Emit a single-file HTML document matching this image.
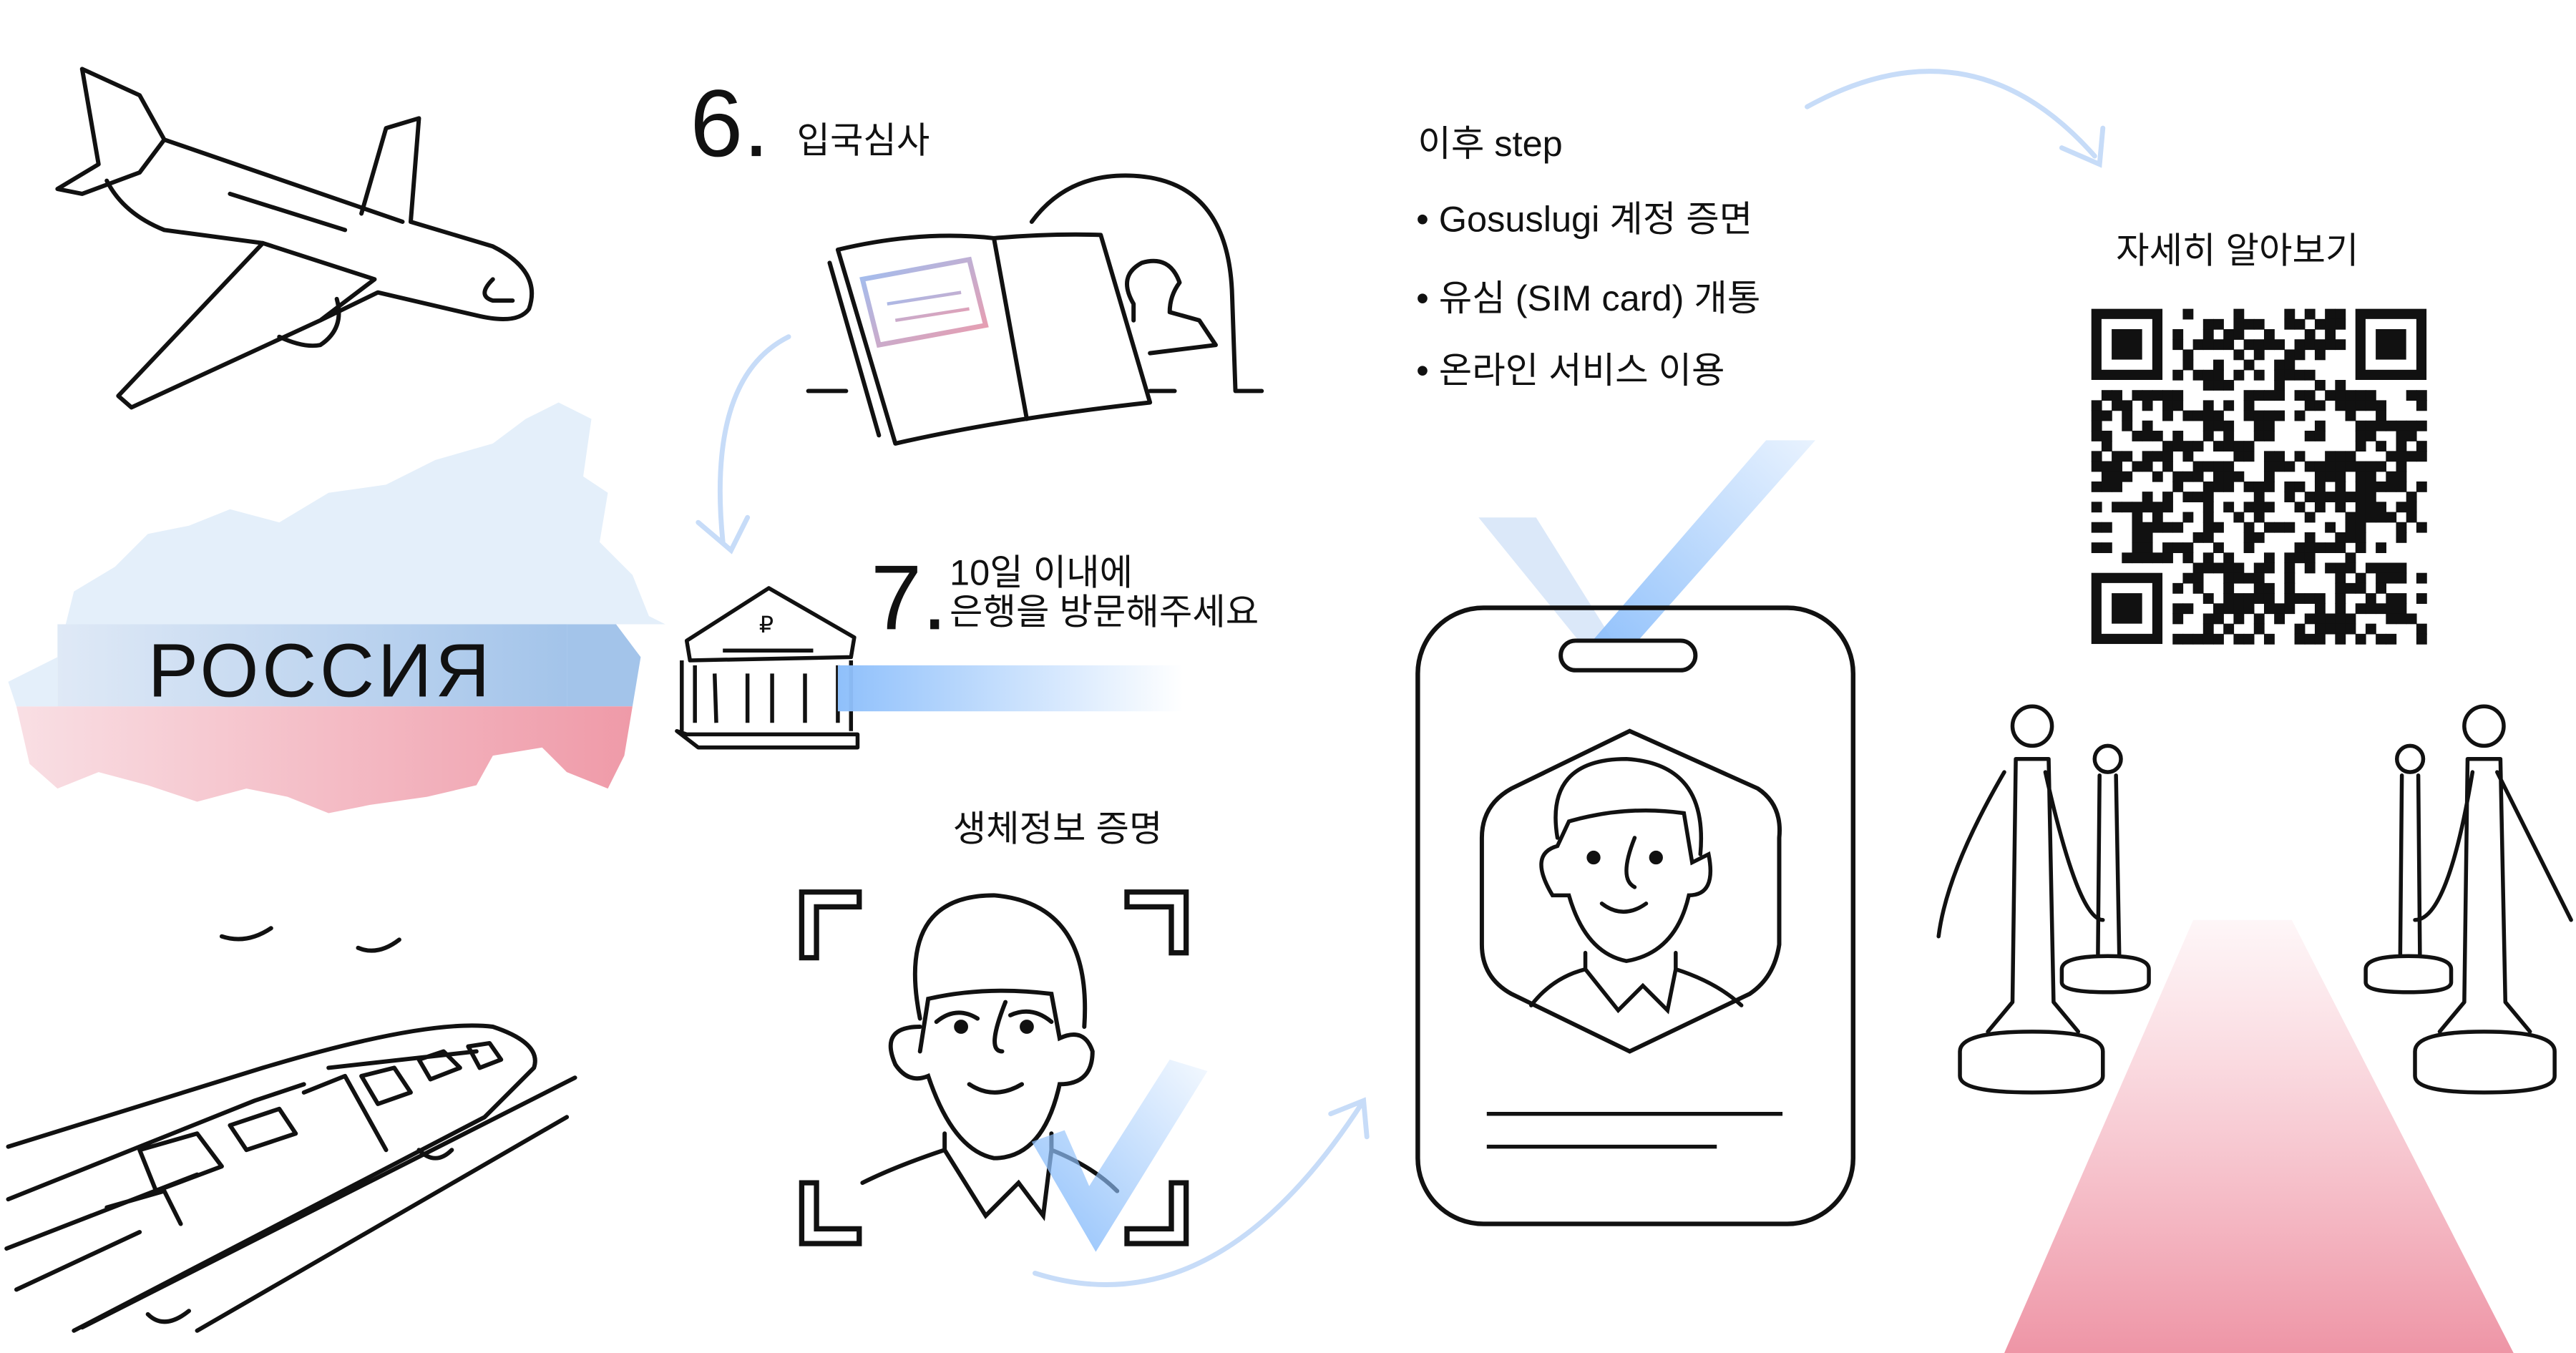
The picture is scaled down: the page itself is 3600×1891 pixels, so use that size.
<!DOCTYPE html>
<html><head><meta charset="utf-8"><style>
html,body{margin:0;padding:0;background:#fff;}
svg{display:block;}
text{font-family:"Liberation Sans","Noto Sans CJK KR",sans-serif;fill:#111;}
</style></head><body>
<svg id="s" width="3600" height="1891" viewBox="0 0 1568 823.6" preserveAspectRatio="none" xmlns="http://www.w3.org/2000/svg">
<defs>
<linearGradient id="bl" x1="0" x2="1"><stop offset="0" stop-color="#dfe9f6"/><stop offset="1" stop-color="#a3c4ea"/></linearGradient>
<linearGradient id="pk" x1="0" x2="1"><stop offset="0" stop-color="#f9dfe4"/><stop offset="1" stop-color="#ef9aa8"/></linearGradient>
<linearGradient id="bar" x1="0" x2="1"><stop offset="0" stop-color="#8fc0fb"/><stop offset="1" stop-color="#8fc0fb" stop-opacity="0"/></linearGradient>
<linearGradient id="chk" x1="0" y1="1" x2="1" y2="0"><stop offset="0" stop-color="#8fc0fb"/><stop offset="1" stop-color="#8fc0fb" stop-opacity="0.1"/></linearGradient>
<linearGradient id="lan" x1="0" y1="1" x2="1" y2="0"><stop offset="0" stop-color="#8fc0fb"/><stop offset="1" stop-color="#8fc0fb" stop-opacity="0.2"/></linearGradient>
<linearGradient id="red" x1="0" y1="0" x2="0" y2="1"><stop offset="0" stop-color="#f4a8b6" stop-opacity="0.1"/><stop offset="1" stop-color="#ee95a6"/></linearGradient>
<linearGradient id="stamp" x1="0" x2="1" y1="0" y2="1"><stop offset="0" stop-color="#9cc0f4"/><stop offset="1" stop-color="#ee9aaa"/></linearGradient>
</defs>
<g fill="none" stroke="#111" stroke-width="2.6" stroke-linecap="round" stroke-linejoin="round">
<path d="M50 42 L85 58 L100 85 L245 135 M140 118 L210 140 M220 130 L235 78 L255 72 L250 135 L300 150 Q330 165 322 188 Q315 198 290 192 L230 178 L195 195 M195 195 L80 248 L72 241 L160 148 L228 170 L195 195"/>
<path d="M50 42 L60 100 L35 115 L50 118 L85 105 L100 85"/>
<path d="M65 110 Q75 130 100 140 L160 148 M300 170 Q290 180 300 183 L312 183"/>
<path d="M170 205 Q185 212 195 210 Q210 200 205 182"/>
<path d="M135 570 Q150 575 165 565 M218 577 Q230 582 243 572"/>
<path d="M5 698 L160 650 Q260 620 300 625 Q330 635 325 650 L295 680 L45 810 M5 730 L155 670 L185 660 M200 650 L290 640 M4 760 L120 715 M10 785 L85 750 M120 810 L345 680 M50 808 L350 656 M65 735 L100 725 L110 745 M85 700 L120 690 L135 710 L95 725 Z M140 685 L170 675 L180 690 L150 700 Z M185 665 L210 655 L235 700 M220 655 L240 650 L250 665 L230 672 Z M255 645 L270 640 L280 650 L262 657 Z M285 637 L298 635 L305 645 L292 650 Z"/>
<path d="M255 700 Q265 710 275 700 M90 800 Q100 810 115 798"/>
</g>
<path d="M40 380 L45 360 L70 345 L90 325 L115 320 L140 310 L170 318 L200 300 L235 295 L265 280 L300 270 L320 255 L340 245 L360 255 L355 290 L370 300 L365 330 L385 350 L395 375 L405 380 Z" fill="#e4effa"/>
<rect x="35" y="380" width="310" height="50" fill="url(#bl)"/>
<path d="M345 380 L375 380 L390 400 L385 430 L345 430 Z" fill="#a3c4ea"/>
<path d="M10 430 L385 430 L380 460 L370 480 L345 470 L330 455 L300 460 L290 478 L260 485 L225 490 L200 495 L175 485 L150 480 L120 488 L90 478 L60 470 L35 480 L18 465 Z" fill="url(#pk)"/>
<path d="M5 415 L35 400 L35 430 L10 430 Z" fill="#e4effa"/>
<text x="90" y="424" font-size="46" style="letter-spacing:2px">РОССИЯ</text>
<text x="420" y="95" font-size="58">6.</text>
<text x="485" y="93" font-size="22">입국심사</text>
<g fill="none" stroke="#111" stroke-width="2.6" stroke-linecap="round" stroke-linejoin="round">
<path d="M510 152 L545 270 Q610 255 700 245 L670 143 Q640 142 605 145 Q560 140 510 152 Z M605 145 L625 255 M505 160 L535 265"/>
<path d="M492 238 L515 238 M700 238 L715 238 M628 135 Q650 105 690 107 Q748 110 750 180 L752 238 L768 238"/>
<path d="M690 195 L690 185 Q680 168 695 160 Q712 155 718 172 Q712 180 712 190 L730 195 L740 210 L700 215"/>
</g>
<path d="M525 170 L590 158 L600 198 L535 210 Z" fill="none" stroke="url(#stamp)" stroke-width="3"/>
<path d="M540 185 L585 178 M545 195 L590 188" stroke="url(#stamp)" stroke-width="2"/>
<path d="M480 205 Q430 230 440 330 M425 318 L445 335 L455 315" fill="none" stroke="#c7dcf8" stroke-width="3" stroke-linecap="round"/>
<g fill="none" stroke="#111" stroke-width="2.4" stroke-linejoin="round">
<path d="M418 390 L468 358 L520 388 L518 400 L420 402 Z M415 402 L415 445 M423 405 L423 440 M510 405 L510 440 M518 402 L518 445 M412 445 L425 455 L522 455 L522 447 L418 447 Z M435 410 L436 440 M455 410 L455 440 M470 410 L470 440 M490 410 L490 440 M440 396 L495 396"/>
</g>
<text x="462" y="385" font-size="14">₽</text>
<rect x="510" y="405" width="210" height="28" fill="url(#bar)"/>
<text x="530" y="383" font-size="56">7.</text>
<text x="578" y="356" font-size="22">10일 이내에</text>
<text x="578" y="380" font-size="22">은행을 방문해주세요</text>
<text x="580" y="512" font-size="22">생체정보 증명</text>
<g fill="none" stroke="#111" stroke-width="3.2">
<path d="M488 583 L488 543 L523 543 L523 552 L497 552 L497 583 Z M686 543 L722 543 L722 580 L713 580 L713 552 L686 552 Z M488 720 L497 720 L497 748 L523 748 L523 757 L488 757 Z M713 720 L722 720 L722 757 L686 757 L686 748 L713 748 Z"/>
</g>
<g fill="none" stroke="#111" stroke-width="2.6" stroke-linecap="round">
<path d="M560 620 Q545 545 605 545 Q665 550 660 625 M560 625 Q535 625 545 648 Q553 660 565 655 Q580 700 605 705 Q635 705 645 660 Q665 660 665 640 Q660 625 645 632 L640 605 Q600 600 565 608 L560 640 M575 690 L575 700 L600 740 L620 720 L635 740 L640 700 L640 690 M575 700 Q545 710 525 720 M640 700 Q665 710 680 725 M612 610 Q600 640 610 640 M590 660 Q605 670 622 660 M570 622 Q582 612 595 620 M615 618 Q628 612 640 622"/>
<circle cx="585" cy="625" r="3" fill="#111"/><circle cx="625" cy="625" r="3" fill="#111"/>
</g>
<path d="M628 695 L667 762 L735 652 L712 645 L663 722 L648 688 Z" fill="url(#chk)"/>
<path d="M630 775 Q740 810 830 670 M810 678 L830 670 L832 692" fill="none" stroke="#c7dcf8" stroke-width="3" stroke-linecap="round"/>
<path d="M900 315 L935 315 L985 395 L965 395 Z" fill="#dbe8f9"/>
<path d="M1075 268 L1105 268 L990 398 L965 395 Z" fill="url(#lan)"/>
<rect x="863" y="370" width="265" height="375" rx="40" fill="none" stroke="#111" stroke-width="2.8"/>
<rect x="950" y="390" width="82" height="18" rx="9" fill="#fff" stroke="#111" stroke-width="2.6"/>
<path d="M992 445 L1070 480 Q1085 490 1083 510 L1083 575 Q1080 595 1065 605 L992 640 L920 605 Q902 595 902 575 L902 510 Q902 490 920 480 Z" fill="none" stroke="#111" stroke-width="2.6"/>
<g fill="none" stroke="#111" stroke-width="2.4" stroke-linecap="round">
<path d="M948 510 Q940 462 990 462 Q1040 465 1035 520 M948 515 Q930 520 945 545 L955 545 Q965 580 990 585 Q1020 580 1028 545 Q1045 545 1040 520 L1030 525 L1025 495 Q990 490 955 500 Z M965 580 L965 590 L985 615 L1000 600 L1015 615 L1020 590 L1020 580 M965 590 Q945 595 932 612 M1020 590 Q1045 598 1060 612 M975 550 Q988 560 1002 550 M995 510 Q985 535 995 540"/>
<circle cx="970" cy="522" r="3" fill="#111"/><circle cx="1008" cy="522" r="3" fill="#111"/>
</g>
<path d="M905 678 L1085 678 M905 698 L1045 698" stroke="#111" stroke-width="2.4"/>
<text x="863" y="95" font-size="22">이후 step</text>
<text x="862" y="141" font-size="22">• Gosuslugi 계정 증면</text>
<text x="862" y="189" font-size="22">• 유심 (SIM card) 개통</text>
<text x="862" y="233" font-size="22">• 온라인 서비스 이용</text>
<path d="M1100 65 Q1200 10 1275 95 M1255 90 L1278 100 L1280 78" fill="none" stroke="#c7dcf8" stroke-width="3" stroke-linecap="round"/>
<text x="1288" y="160" font-size="22">자세히 알아보기</text>
<g id="qr"></g>
<path d="M1335 560 L1395 560 L1530 823.6 L1220 823.6 Z" fill="url(#red)"/>
<g fill="none" stroke="#111" stroke-width="2.4" stroke-linecap="round" stroke-linejoin="round">
<path d="M1193 640 Q1193 628 1237 628 Q1280 628 1280 640 L1280 655 Q1280 665 1237 665 Q1193 665 1193 655 Z M1210 628 L1225 610 L1227 462 M1247 462 L1250 610 L1265 628 M1227 462 L1247 462 M1220 470 Q1185 530 1180 570 M1245 470 Q1265 560 1280 560"/>
<circle cx="1237" cy="442" r="12"/>
<path d="M1255 590 Q1255 582 1283 582 Q1308 582 1308 590 L1308 598 Q1308 604 1283 604 Q1255 604 1255 598 Z M1277 582 L1278 472 M1288 472 L1290 582"/>
<circle cx="1283" cy="462" r="8"/>
<path d="M1470 640 Q1470 628 1512 628 Q1555 628 1555 640 L1555 655 Q1555 665 1512 665 Q1470 665 1470 655 Z M1485 628 L1500 610 L1502 462 M1522 462 L1525 610 L1540 628 M1502 462 L1522 462 M1520 470 Q1550 530 1565 560 M1505 470 Q1490 560 1470 560"/>
<circle cx="1512" cy="442" r="12"/>
<path d="M1440 590 Q1440 582 1466 582 Q1492 582 1492 590 L1492 598 Q1492 604 1466 604 Q1440 604 1440 598 Z M1461 582 L1462 472 M1472 472 L1473 582"/>
<circle cx="1467" cy="462" r="8"/>
</g>
</svg>
<script>
(function(){
var g=document.getElementById('qr'),ns='http://www.w3.org/2000/svg';
var x0=1273,y0=188,n=33,c=204/n,seed=12345;
function r(){seed=(seed*1103515245+12345)&0x7fffffff;return seed/0x7fffffff;}
function rect(x,y,w,h){var e=document.createElementNS(ns,'rect');e.setAttribute('x',x);e.setAttribute('y',y);e.setAttribute('width',w);e.setAttribute('height',h);e.setAttribute('fill','#111');g.appendChild(e);}
function fin(i,j){return (i<8&&j<8)||(i<8&&j>=n-8)||(i>=n-8&&j<8);}
for(var i=0;i<n;i++)for(var j=0;j<n;j++){if(fin(i,j))continue;if(r()<0.5)rect(x0+j*c,y0+i*c,c+0.3,c+0.3);}
[[0,0],[0,n-7],[n-7,0]].forEach(function(p){var x=x0+p[1]*c,y=y0+p[0]*c;rect(x,y,7*c,7*c);var e=document.createElementNS(ns,'rect');e.setAttribute('x',x+c);e.setAttribute('y',y+c);e.setAttribute('width',5*c);e.setAttribute('height',5*c);e.setAttribute('fill','#fff');g.appendChild(e);rect(x+2*c,y+2*c,3*c,3*c);});
})();
</script>
</body></html>
